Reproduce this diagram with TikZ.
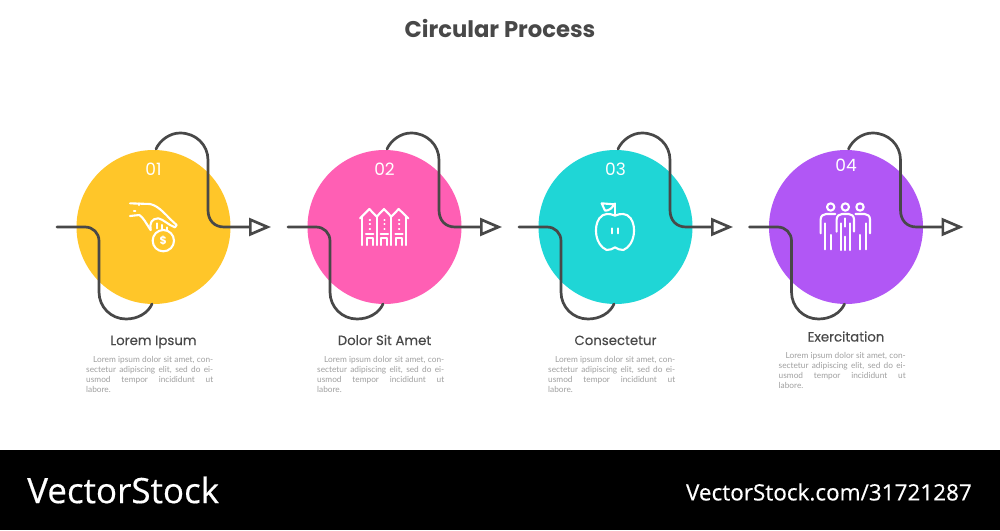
\documentclass[tikz,border=0pt]{standalone}
\usepackage{fontspec}
\setmainfont{Poppins}
\newfontfamily\fontten[FakeBold=0.2]{Poppins}
\newfontfamily\fontdoan{Lato}
\newfontfamily\fontchan[FakeBold=0.4]{Open Sans}
\usetikzlibrary{arrows.meta}
\definecolor{mauvang}{HTML}{FFC629}
\definecolor{mauhong}{HTML}{FF5FB4}
\definecolor{mauxanh}{HTML}{1FD6D6}
\definecolor{mautim}{HTML}{B157F5}
\definecolor{mauduong}{HTML}{484848}
\definecolor{mauchu}{HTML}{A0A0A0}
\tikzset{
    duong/.style={draw=mauduong,line width=2.7pt,line cap=round,line join=round},
    icon/.style={draw=white,line width=2.1pt,line cap=round,line join=round},
    so/.style={text=white,anchor=base,font=\fontsize{17}{17}\selectfont},
    ten/.style={text=mauduong,anchor=base,font=\fontten\fontsize{13.3}{14}\selectfont},
    doan/.style={text=mauchu,text width=127pt,inner sep=0pt,align=justify,
        font=\fontdoan\fontsize{8.3}{10}\selectfont}
}
\newcommand{\noidung}{\hspace*{7pt}Lorem ipsum dolor sit amet, con-\linebreak sectetur adipiscing elit, sed do ei-\linebreak usmod tempor incididunt ut\linebreak labore.\par}
\begin{document}
\begin{tikzpicture}[x=1pt,y=-1pt,>=stealth]
    \useasboundingbox (0,0) rectangle (1000,530);
    \fill[white] (0,0) rectangle (1000,530);
    \node[text=mauduong,font=\bfseries\fontsize{22.7}{24}\selectfont] (tieude) at (500,28) {Circular Process};
    %%Bon khoi giong nhau
    \foreach \i/\dx/\mau/\dy/\nhan in {1/0/mauvang/0/Lorem Ipsum,2/231/mauhong/0/Dolor Sit Amet,3/462/mauxanh/0/Consectetur,4/692.5/mautim/-3.5/Exercitation}{
        \begin{scope}[shift={(\dx,0)}]
            \fill[\mau] (153.5,227) circle (77);
            \coordinate (dau\i) at (57,227);
            \coordinate (tren\i) at (156,149);
            \coordinate (mui\i) at (271,227);
            \draw[duong] (dau\i) -- (85,227) .. controls (93,227) and (99,233) .. (99,241) -- (99,292)
                .. controls (99,307) and (111,319) .. (126,319) .. controls (138,319) and (148,313) .. (152,304);
            \draw[duong,-{Triangle[open,length=22pt,width=18pt]}] (tren\i) .. controls (160,140) and (170,133) .. (180,133)
                .. controls (196,133) and (208,145) .. (208,160) -- (208,210) .. controls (208,220) and (214,227) .. (224,227) -- (mui\i);
            \node[so] (so\i) at (153.5,175+\dy) {0\i};
            \node[ten] (ten\i) at (153.5,345+\dy) {\nhan};
            \node[doan,anchor=north west] (doan\i) at (86,356+\dy) {\noidung};
        \end{scope}
    }
    %%Ban tay va dong xu
    \begin{scope}[shift={(110,190)},scale=1/3]
        \draw[icon] (60,40) -- (120,42) .. controls (150,48) and (170,80) .. (200,105) -- (195,112) .. controls (175,105) and (160,88) .. (145,85) .. controls (125,85) and (118,100) .. (122,120);
        \draw[icon] (60,78) -- (88,75) .. controls (100,82) and (108,100) .. (122,120);
        \draw[icon] (88,40) -- (88,45);
        \draw[icon] (72,62) -- (76,62);
        \draw[icon] (140,100) -- (140,115) (155,105) -- (155,118) (170,112) -- (170,120);
        \draw[icon] (160,152) circle (32);
        \node[text=white,font=\bfseries\fontsize{11}{11}\selectfont,inner sep=0pt] (dola) at (160,152) {\$};
    \end{scope}
    %%Ba ngoi nha
    \begin{scope}[shift={(340,190)},scale=1/3]
        \foreach \c in {88,132,176}{
            \draw[icon] (\c-8,165) -- (\c-8,145) -- (\c+10,145) -- (\c+10,165);
            \draw[icon] (\c-10,133) -- (\c+12,133);
            \draw[icon] (\c+1,90) -- (\c+2,90) (\c+1,103) -- (\c+2,103) (\c+1,116) -- (\c+2,116);
        }
        \draw[icon] (60,85) -- (88,57) -- (110,80) -- (132,57) -- (154,80) -- (176,57) -- (205,85);
        \draw[icon] (66,80) -- (66,165) (110,80) -- (110,165) (154,80) -- (154,165) (198,80) -- (198,165);
    \end{scope}
    %%Qua tao
    \begin{scope}[shift={(570,190)},scale=1/3]
        \draw[icon] (135,77) .. controls (120,70) and (100,68) .. (88,85) .. controls (70,110) and (75,165) .. (110,180)
            .. controls (120,182) and (128,175) .. (135,172) .. controls (142,175) and (150,182) .. (160,180)
            .. controls (195,165) and (200,110) .. (182,85) .. controls (170,68) and (150,70) .. (135,77);
        \draw[icon] (135,40) -- (135,76);
        \draw[icon] (95,40) -- (133,43) .. controls (125,55) and (118,62) .. (105,62) -- (95,40);
        \draw[icon] (127,115) -- (127,130) (145,115) -- (145,130);
    \end{scope}
    %%Ba nguoi
    \begin{scope}[shift={(800,190)},scale=1/3]
        \foreach \c in {92,136,180}{
            \draw[icon] (\c,51) circle (11);
        }
        \draw[icon] (110,125) -- (110,88) .. controls (110,78) and (118,72) .. (126,72) -- (146,72) .. controls (154,72) and (162,78) .. (162,88) -- (162,125);
        \draw[icon] (122,100) -- (122,180) (136,140) -- (136,180) (150,100) -- (150,180) (136,85) -- (136,110);
        \draw[icon] (62,130) -- (62,88) .. controls (62,78) and (70,72) .. (78,72) -- (106,72);
        \draw[icon] (75,100) -- (75,178) (92,135) -- (92,178);
        \draw[icon] (210,130) -- (210,88) .. controls (210,78) and (202,72) .. (194,72) -- (166,72);
        \draw[icon] (197,100) -- (197,178) (180,135) -- (180,178);
    \end{scope}
    %%Dai den
    \fill[black] (0,450) rectangle (1000,530);
    \node[text=white,anchor=west,inner sep=0pt,font=\fontchan\fontsize{35}{38}\selectfont] (logo) at (27,490) {VectorStock};
    \node[text=white,anchor=east,inner sep=0pt,font=\fontchan\fontsize{22.5}{24}\selectfont] (mangso) at (972,492) {VectorStock.com/31721287};
\end{tikzpicture}
\end{document}
